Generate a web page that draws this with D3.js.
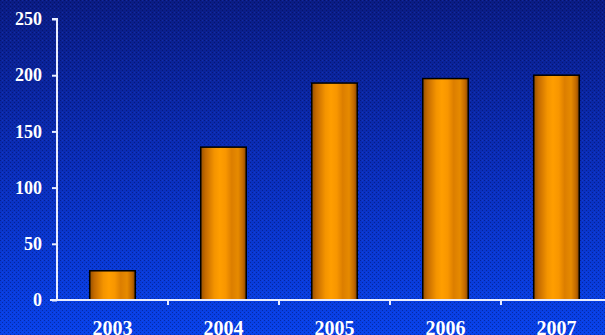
<!DOCTYPE html>
<html>
<head>
<meta charset="utf-8">
<script src="https://cdn.jsdelivr.net/npm/d3@7"></script>
<style>
  html, body { margin: 0; padding: 0; background: #0a2aa8; overflow: hidden; }
  svg { display: block; }
</style>
</head>
<body>
<svg id="chart"></svg>
<script>
// data
const years = ["2003", "2004", "2005", "2006", "2007"];
const values = [26, 136, 193, 197, 200];
const yTicks = [0, 50, 100, 150, 200, 250];

const width = 605, height = 335;
const plotLeft = 57, plotBottom = 300, plotTop = 19, plotRight = 612;

const svg = d3.select("#chart").attr("width", width).attr("height", height);
const defs = svg.append("defs");

// background: dark navy at the top, bright blue at the bottom
const bg = defs.append("linearGradient").attr("id", "bg").attr("x1", 0).attr("y1", 0).attr("x2", 0).attr("y2", 1);
bg.append("stop").attr("offset", "0%").attr("stop-color", "#0a1c84");
bg.append("stop").attr("offset", "50%").attr("stop-color", "#0a2eba");
bg.append("stop").attr("offset", "100%").attr("stop-color", "#0842ea");

// small dither pattern on top of the gradient
const pat = defs.append("pattern").attr("id", "dither").attr("width", 4).attr("height", 4)
  .attr("patternUnits", "userSpaceOnUse");
pat.append("rect").attr("x", 0).attr("y", 0).attr("width", 1).attr("height", 1).attr("fill", "#000030").attr("opacity", 0.35);
pat.append("rect").attr("x", 2).attr("y", 2).attr("width", 1).attr("height", 1).attr("fill", "#000030").attr("opacity", 0.35);
pat.append("rect").attr("x", 2).attr("y", 0).attr("width", 1).attr("height", 1).attr("fill", "#4060ff").attr("opacity", 0.2);

// bar shading, like a cylinder
const bar = defs.append("linearGradient").attr("id", "bar").attr("x1", 0).attr("y1", 0).attr("x2", 1).attr("y2", 0);
[["0%", "#945000"], ["10%", "#c46a00"], ["30%", "#f49400"], ["42%", "#ff9e00"], ["55%", "#f89600"],
 ["68%", "#dc7e00"], ["82%", "#e68a00"], ["93%", "#c06800"], ["100%", "#844400"]].forEach(s =>
  bar.append("stop").attr("offset", s[0]).attr("stop-color", s[1]));

svg.append("rect").attr("width", width).attr("height", height).attr("fill", "url(#bg)");
svg.append("rect").attr("width", width).attr("height", height).attr("fill", "url(#dither)");

// scales
const x = d3.scaleBand().domain(years).range([plotLeft, plotRight]).padding(0);
const y = d3.scaleLinear().domain([0, 250]).range([plotBottom, plotTop]);
const barW = x.bandwidth() * 0.41;

// bars
svg.selectAll("rect.bar").data(values).join("rect").attr("class", "bar")
  .attr("x", (d, i) => x(years[i]) + (x.bandwidth() - barW) / 2)
  .attr("y", d => y(d))
  .attr("width", barW)
  .attr("height", d => plotBottom - y(d))
  .attr("fill", "url(#bar)")
  .attr("stroke", "#000")
  .attr("stroke-width", 1.5);

const font = "'Liberation Serif', 'Times New Roman', serif";

// y axis
const axisY = d3.axisLeft(y).tickValues(yTicks).tickSize(5).tickPadding(10).tickFormat(d => d);
const gy = svg.append("g").attr("transform", `translate(${plotLeft},0)`).call(axisY);
gy.select(".domain").attr("stroke", "#e8ecff").attr("stroke-width", 2).attr("d", `M-5,${plotTop}H0V${plotBottom}`);
gy.selectAll(".tick line").attr("stroke", "#e8ecff").attr("stroke-width", 2);
gy.selectAll(".tick text").attr("fill", "#fff").style("font", `bold 18px ${font}`);

// x axis line and boundary ticks
svg.append("line").attr("x1", 50).attr("x2", width).attr("y1", plotBottom).attr("y2", plotBottom)
  .attr("stroke", "#e8ecff").attr("stroke-width", 2);
svg.selectAll("line.xt").data(years.slice(1)).join("line").attr("class", "xt")
  .attr("x1", d => x(d)).attr("x2", d => x(d))
  .attr("y1", plotBottom).attr("y2", plotBottom + 5)
  .attr("stroke", "#e8ecff").attr("stroke-width", 2);

// year labels (partly cut off by the bottom edge, as in the original)
svg.selectAll("text.year").data(years).join("text").attr("class", "year")
  .attr("x", d => x(d) + x.bandwidth() / 2)
  .attr("y", 335)
  .attr("text-anchor", "middle")
  .attr("fill", "#fff")
  .style("font", `bold 20px ${font}`)
  .text(d => d);
</script>
</body>
</html>
